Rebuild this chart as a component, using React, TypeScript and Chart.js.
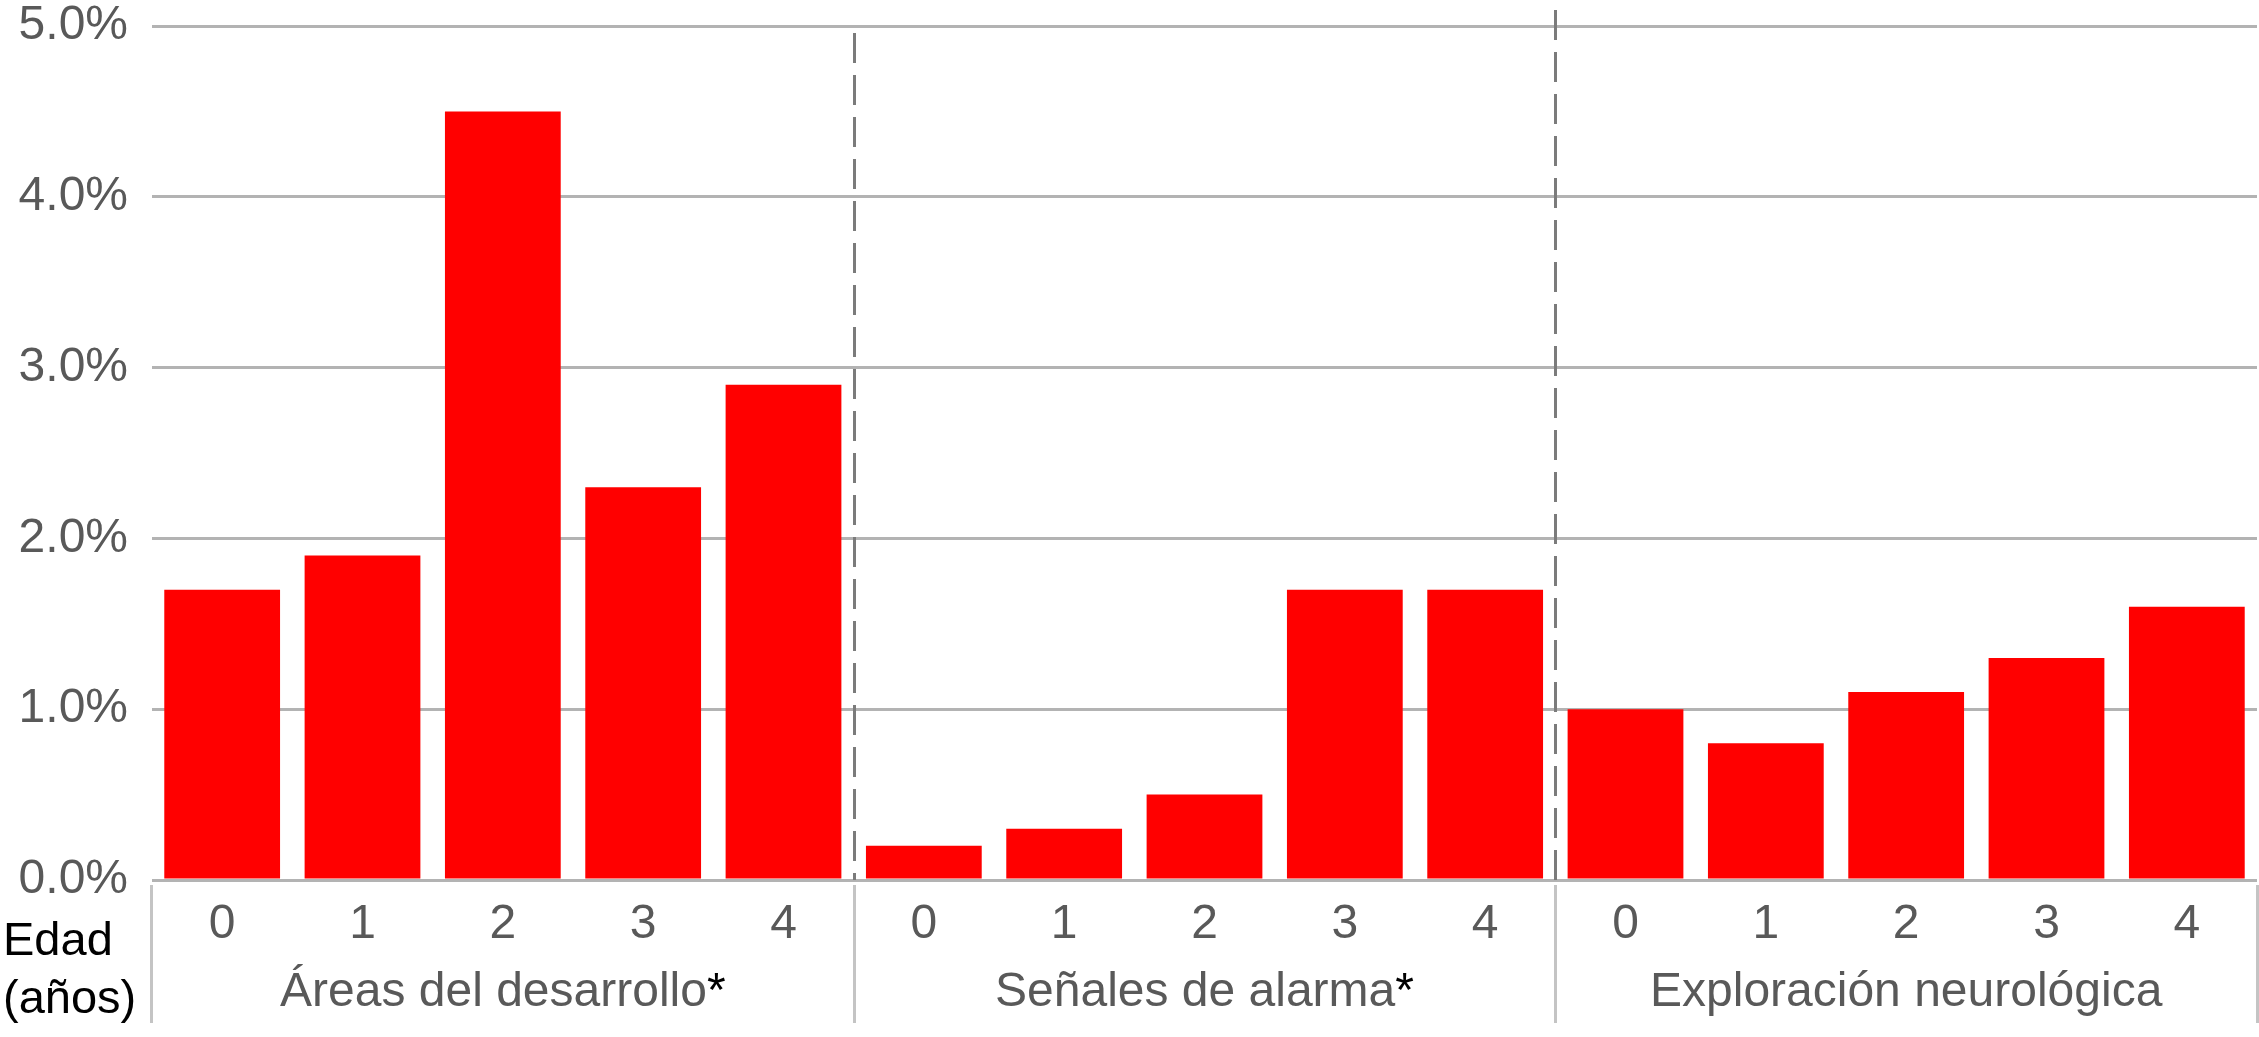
import React, { useEffect, useRef } from 'react';
import { Chart, registerables } from 'chart.js';

Chart.register(...registerables);

// ---- data ----
const groupNames = ['Áreas del desarrollo', 'Señales de alarma', 'Exploración neurológica'];
const groupMarks = ['*', '*', ''];
const ages = ['0', '1', '2', '3', '4'];
const areasDesarrollo = [1.7, 1.9, 4.5, 2.3, 2.9];
const senalesAlarma = [0.2, 0.3, 0.5, 1.7, 1.7];
const exploracionNeurologica = [1.0, 0.8, 1.1, 1.3, 1.6];
const yMin = 0;
const yMax = 5;
const yStep = 1;
const axisTitleLines = ['Edad', '(años)'];

const labels = [...ages, ...ages, ...ages];
const values = [...areasDesarrollo, ...senalesAlarma, ...exploracionNeurologica];

const FONT = '"Liberation Sans", Arial, Helvetica, sans-serif';
const GREY_TEXT = '#595959';

const W = 2259;
const H = 1037;

const decorPlugin = {
  id: 'decor',
  afterDraw(chart: any) {
    const { ctx, chartArea, scales } = chart;
    const x = scales.x;
    const n = ages.length;
    const bounds: number[] = [chartArea.left];
    for (let g = 1; g < groupNames.length; g++) {
      const i = g * n;
      bounds.push((x.getPixelForValue(i - 1) + x.getPixelForValue(i)) / 2);
    }
    bounds.push(chartArea.right);

    ctx.save();
    // dashed separators inside plot
    const dashStartOffsets = [7, -16];
    ctx.strokeStyle = '#7b7b7b';
    ctx.lineWidth = 3;
    ctx.setLineDash([30, 12]);
    for (let b = 1; b < bounds.length - 1; b++) {
      const px = Math.round(bounds[b]) + 0.5;
      ctx.beginPath();
      ctx.moveTo(px, chartArea.top + (dashStartOffsets[b - 1] ?? 0));
      ctx.lineTo(px, chartArea.bottom);
      ctx.stroke();
    }
    ctx.setLineDash([]);

    // separators below axis
    ctx.strokeStyle = '#c4c4c4';
    ctx.lineWidth = 3;
    for (let b = 0; b < bounds.length; b++) {
      let px = Math.round(bounds[b]) + 0.5;
      if (b === 0) px -= 1;
      ctx.beginPath();
      ctx.moveTo(px, chartArea.bottom + 5);
      ctx.lineTo(px, chartArea.bottom + 143);
      ctx.stroke();
    }

    // group labels
    ctx.font = `48px ${FONT}`;
    ctx.textBaseline = 'alphabetic';
    ctx.textAlign = 'left';
    for (let g = 0; g < groupNames.length; g++) {
      const cx = (bounds[g] + bounds[g + 1]) / 2;
      const main = groupNames[g];
      const mark = groupMarks[g];
      const wMain = ctx.measureText(main).width;
      const wMark = mark ? ctx.measureText(mark).width : 0;
      const start = cx - (wMain + wMark) / 2;
      const y = chartArea.bottom + 126;
      ctx.fillStyle = GREY_TEXT;
      ctx.fillText(main, start, y);
      if (mark) {
        ctx.fillStyle = '#000000';
        ctx.fillText(mark, start + wMain, y);
      }
    }

    // axis title (Edad / años)
    ctx.font = `47px ${FONT}`;
    ctx.fillStyle = '#000000';
    ctx.fillText(axisTitleLines[0], 3, chartArea.bottom + 75);
    ctx.fillText(axisTitleLines[1], 3, chartArea.bottom + 133);
    ctx.restore();
  },
};

export default function App() {
  const ref = useRef<HTMLCanvasElement>(null);

  useEffect(() => {
    document.body.style.margin = '0';
    document.body.style.overflow = 'hidden';
    const canvas = ref.current!;
    const chart = new Chart(canvas, {
      type: 'bar',
      data: {
        labels,
        datasets: [
          {
            data: values,
            backgroundColor: '#ff0000',
            borderWidth: 0,
            barPercentage: 0.825,
            categoryPercentage: 1,
          },
        ],
      },
      options: {
        responsive: false,
        animation: false,
        devicePixelRatio: 1,
        layout: { padding: { top: 26, right: 2, left: 0, bottom: 0 } },
        plugins: {
          legend: { display: false },
          tooltip: { enabled: false },
          title: { display: false },
        },
        scales: {
          x: {
            type: 'category',
            offset: true,
            grid: { display: false, drawTicks: false },
            border: { display: false },
            ticks: {
              color: GREY_TEXT,
              font: { family: FONT, size: 48, lineHeight: 1 },
              padding: 21,
              maxRotation: 0,
              autoSkip: false,
            },
            afterFit: (scale: any) => {
              scale.height = H - 880;
              scale.paddingLeft = 0;
              scale.paddingRight = 0;
            },
          },
          y: {
            min: yMin,
            max: yMax,
            grid: { color: '#b3b3b3', lineWidth: 3, drawTicks: false },
            border: { display: false },
            ticks: {
              stepSize: yStep,
              color: GREY_TEXT,
              font: { family: FONT, size: 48, lineHeight: 1 },
              padding: 24,
              callback: (v: any) => Number(v).toFixed(1) + '%',
            },
            afterFit: (scale: any) => {
              scale.width = 152;
              scale.paddingTop = 0;
              scale.paddingBottom = 0;
            },
          },
        },
      },
      plugins: [decorPlugin],
    });
    return () => chart.destroy();
  }, []);

  return <canvas ref={ref} width={W} height={H} style={{ display: 'block' }} />;
}
